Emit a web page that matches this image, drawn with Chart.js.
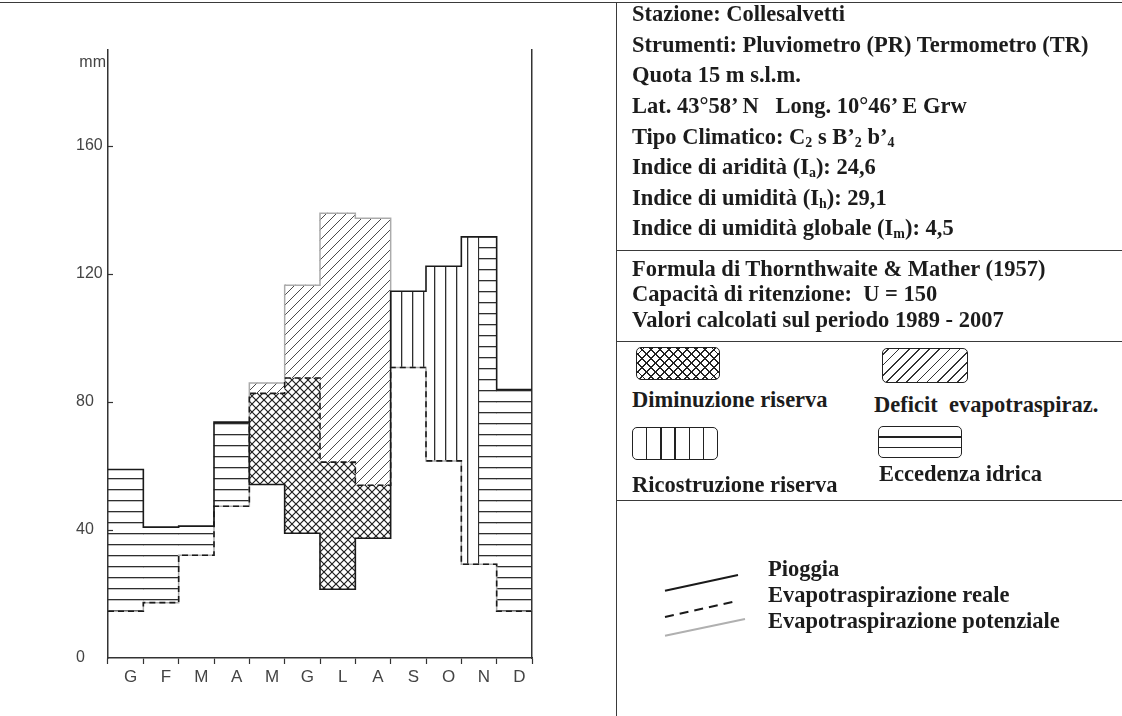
<!DOCTYPE html>
<html><head><meta charset="utf-8">
<script src="https://cdn.jsdelivr.net/npm/chart.js@4.4.1/dist/chart.umd.min.js"></script>
<style>
html,body{margin:0;padding:0;background:#fff;}
#wrap{position:relative;width:1122px;height:716px;overflow:hidden;background:#fff;}
#chartBox{position:absolute;left:0;top:0;width:616px;height:716px;}
.t{position:absolute;font-family:"Liberation Serif","Times New Roman",serif;font-weight:bold;font-size:22.5px;color:#1c1c1c;white-space:pre;line-height:1;}
.t sub{font-size:0.62em;vertical-align:-0.22em;line-height:0;}
.hl{position:absolute;height:0;border-top:1.5px solid #3a3a3a;}
.vl{position:absolute;width:0;border-left:1.5px solid #3a3a3a;}
.box{position:absolute;border:1.6px solid #222;border-radius:5px;box-sizing:border-box;}
</style>
</head><body>
<div id="wrap">
  <div id="chartBox"><canvas id="c" width="616" height="716"></canvas></div>

  <div class="hl" style="left:0;top:2px;width:1122px;"></div>
  <div class="vl" style="left:616px;top:2px;height:716px;"></div>
  <div class="hl" style="left:616px;top:250px;width:506px;"></div>
  <div class="hl" style="left:616px;top:341px;width:506px;"></div>
  <div class="hl" style="left:616px;top:500px;width:506px;"></div>

  <div class="t" style="left:632px;top:3px;">Stazione: Collesalvetti</div>
  <div class="t" style="left:632px;top:34px;">Strumenti: Pluviometro (PR) Termometro (TR)</div>
  <div class="t" style="left:632px;top:64px;">Quota 15 m s.l.m.</div>
  <div class="t" style="left:632px;top:95px;">Lat. 43°58’ N   Long. 10°46’ E Grw</div>
  <div class="t" style="left:632px;top:126px;">Tipo Climatico: C<sub>2</sub> s B’<sub>2</sub> b’<sub>4</sub></div>
  <div class="t" style="left:632px;top:156px;">Indice di aridità (I<sub>a</sub>): 24,6</div>
  <div class="t" style="left:632px;top:187px;">Indice di umidità (I<sub>h</sub>): 29,1</div>
  <div class="t" style="left:632px;top:217px;">Indice di umidità globale (I<sub>m</sub>): 4,5</div>

  <div class="t" style="left:632px;top:258px;">Formula di Thornthwaite &amp; Mather (1957)</div>
  <div class="t" style="left:632px;top:283px;">Capacità di ritenzione:  U = 150</div>
  <div class="t" style="left:632px;top:309px;">Valori calcolati sul periodo 1989 - 2007</div>

  <div class="box" style="left:636px;top:347px;width:84px;height:33px;background:
    repeating-linear-gradient(45deg,transparent 0 5px,#222 5px 6.3px),
    repeating-linear-gradient(-45deg,transparent 0 5px,#222 5px 6.3px);"></div>
  <div class="box" style="left:882px;top:348px;width:86px;height:35px;background:
    repeating-linear-gradient(-45deg,transparent 0 6px,#333 6px 7.2px);"></div>
  <div class="t" style="left:632px;top:389px;">Diminuzione riserva</div>
  <div class="t" style="left:874px;top:394px;">Deficit  evapotraspiraz.</div>

  <div class="box" style="left:632px;top:427px;width:86px;height:33px;background:
    repeating-linear-gradient(90deg,transparent 0 12.8px,#222 12.8px 14.3px);"></div>
  <div class="box" style="left:878px;top:426px;width:84px;height:32px;background:
    repeating-linear-gradient(180deg,transparent 0 9.2px,#222 9.2px 10.6px);"></div>
  <div class="t" style="left:632px;top:474px;">Ricostruzione riserva</div>
  <div class="t" style="left:879px;top:463px;">Eccedenza idrica</div>

  <svg style="position:absolute;left:0;top:0;" width="1122" height="716">
    <line x1="665" y1="590.7" x2="738" y2="575" stroke="#1a1a1a" stroke-width="2"/>
    <line x1="665" y1="617" x2="738" y2="600.7" stroke="#1a1a1a" stroke-width="2" stroke-dasharray="9,6"/>
    <line x1="665" y1="635.7" x2="745" y2="619" stroke="#b0b0b0" stroke-width="2"/>
  </svg>
  <div class="t" style="left:768px;top:558px;">Pioggia</div>
  <div class="t" style="left:768px;top:584px;">Evapotraspirazione reale</div>
  <div class="t" style="left:768px;top:610px;">Evapotraspirazione potenziale</div>
</div>

<script>
// ---- data (mm) ----
const months = ['G','F','M','A','M','G','L','A','S','O','N','D'];
const pioggia      = [58.9, 40.9, 41.2, 73.7, 54.2, 39.0, 21.5, 37.4, 114.6, 122.4, 131.6, 83.9];
const etReale      = [14.6, 17.3, 32.1, 47.4, 82.7, 87.5, 61.2, 54.0,  90.8,  61.6,  29.3, 14.6];
const etPotenziale = [14.6, 17.3, 32.1, 47.4, 85.9,116.5,139.0,137.4,  90.8,  61.6,  29.3, 14.6];
// E = eccedenza, R = ricostruzione, D = diminuzione+deficit, RE = ricostruzione + eccedenza
const regime = ['E','E','E','E','D','D','D','D','R','R','RE','E'];
const yTicks = [0, 40, 80, 120, 160];
const yMax = 190;
const mmLevel = 186;

const canvas = document.getElementById('c');
const ctx0 = canvas.getContext('2d');
function pat(kind){
  const c = document.createElement('canvas'); const g = c.getContext('2d');
  if(kind==='h'){ c.width=8; c.height=11; g.fillStyle='#2e2e2e'; g.fillRect(0,5,8,1.3); }
  if(kind==='v'){ c.width=11; c.height=8; g.fillStyle='#2e2e2e'; g.fillRect(5,0,1.3,8); }
  if(kind==='d'){ c.width=10; c.height=10; g.strokeStyle='#4a4a4a'; g.lineWidth=1;
    g.beginPath(); g.moveTo(-1,11); g.lineTo(11,-1); g.moveTo(-1,1); g.lineTo(1,-1); g.moveTo(9,11); g.lineTo(11,9); g.stroke(); }
  if(kind==='x'){ c.width=8; c.height=8; g.strokeStyle='#1e1e1e'; g.lineWidth=1.2;
    g.beginPath(); g.moveTo(-1,-1); g.lineTo(9,9); g.moveTo(9,-1); g.lineTo(-1,9); g.stroke(); }
  return ctx0.createPattern(c,'repeat');
}
const P = {h:pat('h'), v:pat('v'), d:pat('d'), x:pat('x')};

const sel = (cond, lo, hi) => months.map((_, i) => cond(i) ? [lo[i], hi[i]] : null);
const surplus  = sel(i => regime[i]==='E', etReale, pioggia);
const recharge = sel(i => regime[i]==='R', etReale, pioggia);
const dimin    = sel(i => regime[i]==='D', pioggia, etReale);
const deficit  = sel(i => regime[i]==='D', etReale, etPotenziale);
// split months on a half-month axis
const halfLabels = months.flatMap((m, i) => [m + i + 'a', m + i + 'b']);
const halfRecharge = halfLabels.map((_, k) => { const i = Math.floor(k/2); return (regime[i]==='RE' && k%2===0) ? [etReale[i], pioggia[i]] : null; });
const halfSurplus  = halfLabels.map((_, k) => { const i = Math.floor(k/2); return (regime[i]==='RE' && k%2===1) ? [etReale[i], pioggia[i]] : null; });

const stepPts = arr => arr.map((v, i) => ({x: i, y: v})).concat([{x: arr.length, y: arr[arr.length-1]}]);

const barBase = {type:'bar', grouped:false, barPercentage:1, categoryPercentage:1, borderWidth:0, order:5, yAxisID:'y'};
const lineBase = {type:'line', xAxisID:'xl', yAxisID:'y', pointRadius:0, stepped:'before', fill:false, tension:0};

const inward = {
  id:'inward',
  afterDraw(chart){
    const y = chart.scales.y, g = chart.ctx;
    g.save();
    g.strokeStyle='#333'; g.lineWidth=1.2;
    yTicks.forEach(v => { if(v===0) return; const py = Math.round(y.getPixelForValue(v))+0.5; g.beginPath(); g.moveTo(y.right, py); g.lineTo(y.right+5, py); g.stroke(); });
    g.fillStyle='#444'; g.font='16px "Liberation Sans", Arial, sans-serif'; g.textAlign='right'; g.textBaseline='middle';
    g.fillText('mm', y.right-2, y.getPixelForValue(mmLevel));
    g.restore();
  }
};

new Chart(canvas, {
  data: {
    labels: months,
    datasets: [
      {...lineBase, label:'Pioggia', data: stepPts(pioggia), borderColor:'#1a1a1a', borderWidth:1.6, order:0},
      {...lineBase, label:'Evapotraspirazione reale', data: stepPts(etReale), borderColor:'#1a1a1a', borderWidth:1.6, borderDash:[6,4], order:1},
      {...lineBase, label:'Evapotraspirazione potenziale', data: stepPts(etPotenziale), borderColor:'#ababab', borderWidth:1.5, order:2},
      {...barBase, label:'Eccedenza idrica', data: surplus, backgroundColor:P.h, xAxisID:'x'},
      {...barBase, label:'Ricostruzione riserva', data: recharge, backgroundColor:P.v, xAxisID:'x'},
      {...barBase, label:'Diminuzione riserva', data: dimin, backgroundColor:P.x, xAxisID:'x'},
      {...barBase, label:'Deficit evapotraspiraz.', data: deficit, backgroundColor:P.d, xAxisID:'x'},
      {...barBase, label:'Ricostruzione riserva (N)', data: halfRecharge, backgroundColor:P.v, xAxisID:'xh'},
      {...barBase, label:'Eccedenza idrica (N)', data: halfSurplus, backgroundColor:P.h, xAxisID:'xh'}
    ]
  },
  options: {
    responsive:false, animation:false, events:[],
    layout:{autoPadding:false, padding:{left:76, right:84, top:50, bottom:0}},
    plugins:{legend:{display:false}, tooltip:{enabled:false}},
    scales:{
      x:{type:'category', labels: months, offset:true,
         grid:{offset:true, drawOnChartArea:false, tickLength:6, tickColor:'#333', tickWidth:1.2},
         border:{color:'#333', width:1.5},
         ticks:{font:{family:'"Liberation Sans", Arial, sans-serif', size:17}, color:'#444', padding:3, labelOffset:5, autoSkip:false, maxRotation:0},
         afterFit(s){ s.height = 58; }},
      xh:{type:'category', labels: halfLabels, offset:true, display:false},
      xl:{type:'linear', min:0, max:months.length, display:false},
      y:{type:'linear', min:0, max:yMax,
         afterBuildTicks(s){ s.ticks = yTicks.map(v => ({value:v})); },
         grid:{drawOnChartArea:false, drawTicks:false},
         border:{color:'#333', width:1.5},
         ticks:{crossAlign:'far', padding:0, font:{family:'"Liberation Sans", Arial, sans-serif', size:16}, color:'#444'},
         afterFit(s){ s.width = 32; }},
      yr:{type:'linear', position:'right', min:0, max:yMax,
         grid:{drawOnChartArea:false, drawTicks:false},
         border:{color:'#333', width:1.5},
         ticks:{display:false},
         afterFit(s){ s.width = 0; }}
    }
  },
  plugins:[inward]
});
</script>
</body></html>
